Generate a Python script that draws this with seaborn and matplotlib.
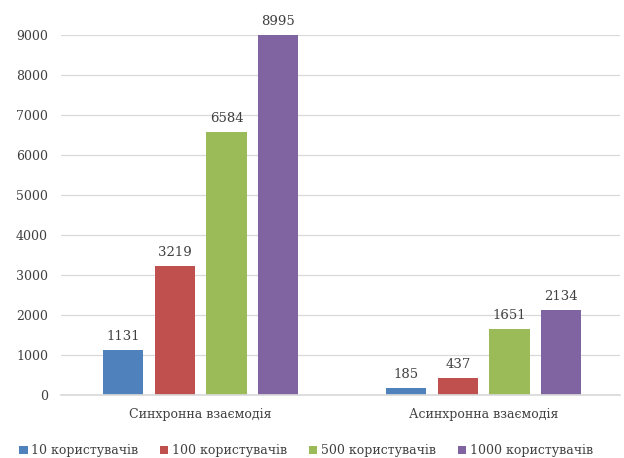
import matplotlib
matplotlib.use("Agg")
import matplotlib.pyplot as plt
import seaborn as sns
import pandas as pd

categories = ["Синхронна взаємодія", "Асинхронна взаємодія"]
series = ["10 користувачів", "100 користувачів", "500 користувачів", "1000 користувачів"]
values = {
    "10 користувачів": [1131, 185],
    "100 користувачів": [3219, 437],
    "500 користувачів": [6584, 1651],
    "1000 користувачів": [8995, 2134],
}
colors = ["#4F81BD", "#C0504D", "#9BBB59", "#8064A2"]
yticks = list(range(0, 10000, 1000))

rows = []
for s in series:
    for c, v in zip(categories, values[s]):
        rows.append({"category": c, "series": s, "value": v})
df = pd.DataFrame(rows)

sns.set_theme(style="white")
plt.rcParams["font.family"] = ["DejaVu Serif"]

fig = plt.figure(figsize=(6.24, 4.58), dpi=100)
ax = fig.add_axes([0.097, 0.137, 0.897, 0.787])

sns.barplot(data=df, x="category", y="value", hue="series", order=categories,
            hue_order=series, palette=colors, width=0.73, gap=0.22,
            saturation=1, linewidth=0, ax=ax, legend=True)

for cont in ax.containers:
    ax.bar_label(cont, labels=[f"{int(v)}" for v in cont.datavalues],
                 padding=5, fontsize=9.5, color="#404040")

ax.set_ylim(0, 9000)
ax.set_yticks(yticks)
ax.set_yticklabels([str(t) for t in yticks], fontsize=9, color="#404040")
ax.tick_params(axis="x", labelsize=9, labelcolor="#404040", length=0, pad=9.5)
ax.tick_params(axis="y", length=0, pad=9)
ax.set_xlabel("")
ax.set_ylabel("")
ax.set_xlim(-0.495, 1.482)
ax.yaxis.grid(True, color="#D9D9D9", linewidth=0.9)
ax.set_axisbelow(True)
for side in ["top", "right", "left"]:
    ax.spines[side].set_visible(False)
ax.spines["bottom"].set_color("#D9D9D9")

handles, labels = ax.get_legend_handles_labels()
ax.legend(handles, labels, loc="upper center", bbox_to_anchor=(0.439, -0.105),
          ncol=4, frameon=False, fontsize=9, handlelength=0.65, handleheight=0.65,
          handletextpad=0.3, columnspacing=1.75, labelcolor="#404040")

fig.savefig("out.png", dpi=100)
